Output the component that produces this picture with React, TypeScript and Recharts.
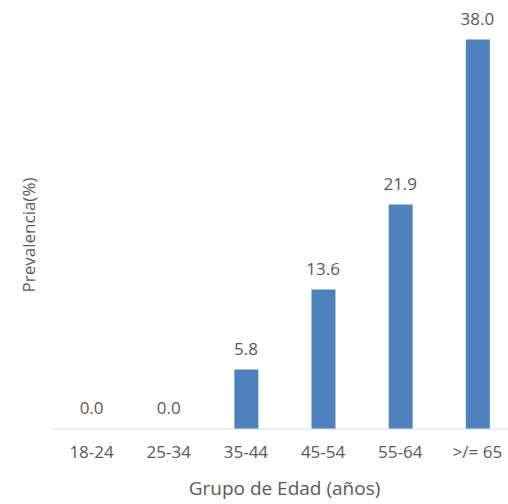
import React from 'react';
import { ComposedChart, Bar, Line, XAxis, YAxis, LabelList } from 'recharts';

const categories = ['18-24', '25-34', '35-44', '45-54', '55-64', '>/= 65'];
const prevalence = [0.0, 0.0, 5.8, 13.6, 21.9, 38.0];

const data = categories.map((c, i) => ({ group: c, value: prevalence[i] }));

const FONT = '"Open Sans", "Noto Sans", sans-serif';
const TEXT = '#595959';

const YTitle = () => (
  <text
    x={28}
    y={235}
    transform="rotate(-90 28 235)"
    textAnchor="middle"
    dominantBaseline="central"
    fill={TEXT}
    fontFamily={FONT}
    fontSize={17}
  >
    Prevalencia(%)
  </text>
);

export default function App() {
  return (
    <div style={{ position: 'absolute', left: 0, top: 0, width: 508, height: 504, overflow: 'hidden', background: '#fff' }}>
      <ComposedChart
        width={532}
        height={504}
        data={data}
        margin={{ top: 19, right: 16, bottom: 0, left: 0 }}
        barSize={24}
      >
        <YAxis
          domain={[0, 40]}
          width={53}
          tick={false}
          axisLine={false}
          tickLine={false}
          label={{ content: () => <YTitle /> }}
        />
        <XAxis
          dataKey="group"
          height={75}
          axisLine={{ stroke: '#D9D9D9', strokeWidth: 1 }}
          tickLine={false}
          tickMargin={11}
          interval={0}
          tick={{ fill: TEXT, fontFamily: FONT, fontSize: 17 }}
          label={{
            value: 'Grupo de Edad (años)',
            position: 'insideBottom',
            offset: 9,
            fill: TEXT,
            fontFamily: FONT,
            fontSize: 19,
          }}
        />
        <Bar dataKey="value" fill="#4F81BD" isAnimationActive={false} />
        <Line
          dataKey="value"
          stroke="none"
          dot={false}
          activeDot={false}
          isAnimationActive={false}
        >
          <LabelList
            dataKey="value"
            position="top"
            offset={15}
            formatter={(v: number) => Number(v).toFixed(1)}
            fill={TEXT}
            fontFamily={FONT}
            fontSize={17}
          />
        </Line>
      </ComposedChart>
    </div>
  );
}
